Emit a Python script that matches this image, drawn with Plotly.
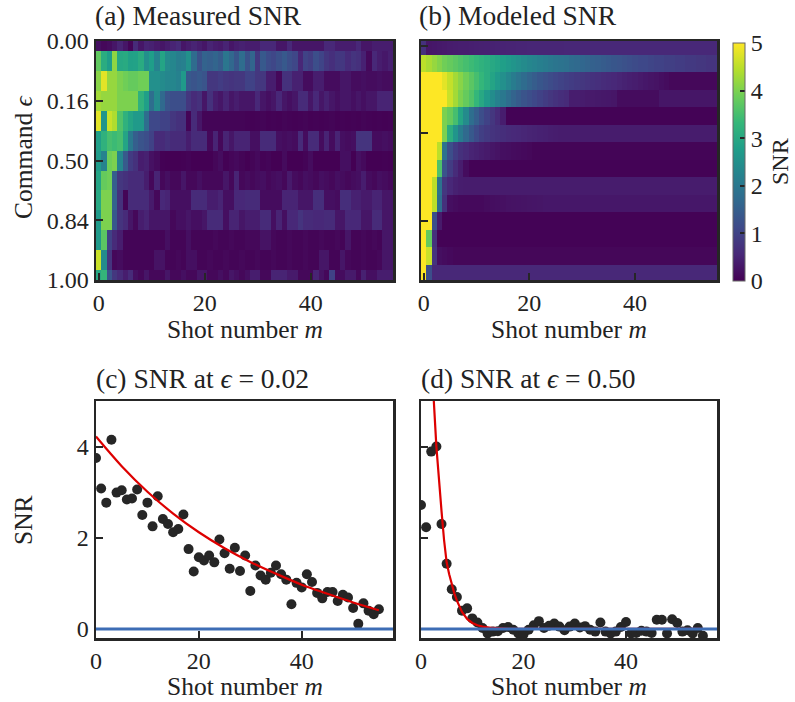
import plotly.graph_objects as go

W, H = 795, 702

# ---------------- data ----------------
shots = list(range(56))
rows_measured = list(range(13))
rows_model = list(range(14))
eps_tickvals = [0, 3, 6, 9, 12]
eps_ticktext = ["0.00", "0.16", "0.50", "0.84", "1.00"]
shot_ticks = [0, 20, 40]
snr_ticks = [0, 2, 4]
cbar_ticks = [0, 1, 2, 3, 4, 5]

# (c) SNR at eps = 0.02 (also row 1 of measured map)
snr_eps002 = [3.75, 3.08, 2.77, 4.15, 2.99, 3.04, 2.84, 2.86, 3.06, 2.50,
              2.77, 2.25, 2.91, 2.41, 2.30, 2.12, 2.19, 2.51, 1.75, 1.26,
              1.57, 1.50, 1.61, 1.46, 1.96, 1.66, 1.32, 1.78, 1.27, 1.61,
              0.83, 1.39, 1.17, 1.08, 1.23, 1.39, 1.20, 1.08, 0.54, 1.01,
              0.91, 1.20, 1.03, 0.79, 0.67, 0.81, 0.81, 0.61, 0.75, 0.69,
              0.46, 0.11, 0.56, 0.40, 0.32, 0.43]
fit002_m = [0, 5, 10, 15, 20, 25, 30, 35, 40, 45, 50, 55]
fit002 = [4.22, 3.57, 3.01, 2.53, 2.12, 1.77, 1.47, 1.21, 0.97, 0.77, 0.58, 0.41]

# (d) SNR at eps = 0.50 (also row 6 of measured map)
snr_eps050 = [2.72, 2.23, 3.89, 4.00, 2.30, 1.43, 0.87, 0.70, 0.40, 0.45,
              0.23, 0.14, 0.02, -0.10, -0.06, -0.05, 0.02, 0.04, -0.02, -0.10,
              -0.12, -0.02, 0.08, 0.17, 0.02, 0.07, 0.12, 0.05, -0.03, 0.05,
              0.12, 0.03, 0.06, -0.02, -0.06, 0.14, -0.06, -0.10, -0.06, 0.04,
              0.15, -0.10, -0.09, -0.04, -0.06, -0.09, 0.20, 0.20, -0.10, 0.21,
              0.13, -0.06, -0.03, -0.10, 0.02, -0.15]
fit050_m = [2.4, 2.5, 3, 3.5, 4, 4.5, 5, 5.5, 6, 6.5, 7, 8, 9, 10, 11, 12, 14, 17, 20, 30, 40, 55]
fit050 = [5.3, 5.0, 4.0, 3.2, 2.59, 1.95, 1.46, 1.2, 0.97, 0.78, 0.62, 0.37, 0.22, 0.13, 0.08,
          0.05, 0.02, 0.0, 0.0, 0.0, 0.0, 0.0]

# (a) measured SNR map rows
meas_r0 = [0.2, 0.1, 0.15, 0.3, 0.5, 0.3, 0.05, 0.6, 0.3, 0.5,
           0.45, 0.35, 0.3, 0.4, 0.5, 0.6, 0.3, 0.4, 0.5, 0.4,
           0.3, 0.5, 0.4, 0.35, 0.5, 0.3, 0.4, 0.45,
           0.4, 0.4, 0.4, 0.55, 0.55, 0.55, 0.3, 0.3, 0.55, 0.3,
           0.3, 0.3, 0.3, 0.3, 0.3, 0.55, 0.55, 0.4, 0.4, 0.4,
           0.4, 0.55, 0.3, 0.3, 0.4, 0.4, 0.4, 0.4]
meas_r2 = [4.1, 4.8, 4.2, 4.2, 4.0, 3.9, 3.8, 3.8, 3.9, 3.9,
           2.5, 2.5, 2.4, 2.3, 2.3, 2.2, 2.7, 1.4, 1.3, 1.4,
           1.3, 0.8, 0.8, 0.9, 0.8, 0.75, 0.8, 0.8,
           1.0, 1.0, 0.8, 0.8, 0.4, 0.4, 0.1, 0.7, 0.7, 0.45,
           0.45, 0.15, 0.15, 0.4, 0.4, 0.15, 0.15, 0.15, 0.3, 0.3,
           0.15, 0.15, 0.2, 0.15, 0.15, 0.2, 0.15, 0.15]
meas_r3 = [4.3, 4.2, 4.2, 4.2, 4.0, 4.0, 4.0, 4.0, 3.2, 2.8,
           1.8, 2.4, 1.7, 1.3, 1.2, 1.2, 1.2, 0.8, 0.6, 0.7,
           0.3, 0.7, 0.4, 0.3, 0.5, 0.3, 0.4, 0.3,
           0.3, 0.3, 0.55, 0.3, 0.2, 0.3, 0.55, 0.3, 0.2, 0.3,
           0.6, 0.6, 0.3, 0.55, 0.3, 0.45, 0.3, 0.2, 0.3, 0.3,
           0.2, 0.3, 0.2, 0.3, 0.3, 0.5, 0.5, 0.5]
meas_r4 = [4.8, 2.6, 4.6, 4.4, 3.6, 3.2, 2.9, 2.7, 2.7, 1.8,
           1.1, 1.1, 1.0, 1.0, 0.8, 0.7, 0.7, 0.05, 0.6, 0.3,
           0.05, 0.05, 0.05, 0.05, 0.05, 0.05, 0.05, 0.05,
           0.03, 0.02, 0.03, 0.05, 0.02, 0.03, 0.02, 0.05, 0.03, 0.02,
           0.03, 0.05, 0.02, 0.03, 0.02, 0.03, 0.05, 0.02, 0.03, 0.02,
           0.03, 0.02, 0.05, 0.03, 0.02, 0.03, 0.02, 0.03]
meas_r5 = [2.8, 3.2, 3.5, 3.4, 3.5, 2.9, 2.0, 1.5, 1.3, 1.2,
           1.0, 0.6, 0.6, 0.7, 0.6, 0.6, 0.6, 0.4, 0.6, 0.6,
           0.6, 0.1, 0.5, 0.1, 0.5, 0.3, 0.5, 0.5,
           0.5, 0.2, 0.2, 0.6, 0.6, 0.6, 0.2, 0.15, 0.2, 0.15,
           0.6, 0.15, 0.6, 0.6, 0.15, 0.5, 0.15, 0.5, 0.2, 0.15,
           0.2, 0.75, 0.75, 0.75, 0.15, 0.15, 0.2, 0.15]
meas_r7 = [2.9, 3.8, 3.9, 1.5, 0.8, 0.7, 0.6, 0.6, 0.6, 0.4,
           0.1, 0.5, 0.1, 0.2, 0.1, 0.1, 0.3, 0.1, 0.1, 0.2,
           0.1, 0.1, 0.1, 0.1, 0.3, 0.1, 0.5, 0.1,
           0.15, 0.1, 0.15, 0.2, 0.1, 0.15, 0.2, 0.1, 0.35, 0.15,
           0.1, 0.2, 0.15, 0.1, 0.2, 0.15, 0.1, 0.2, 0.15, 0.1,
           0.15, 0.2, 0.4, 0.15, 0.1, 0.2, 0.15, 0.1]
meas_r8 = [3.0, 4.0, 4.0, 1.6, 0.7, 0.05, 0.6, 0.6, 0.6, 0.6,
           0.35, 0.1, 0.55, 0.5, 0.2, 0.2, 0.2, 0.2, 0.6, 0.6,
           0.6, 0.4, 0.4, 0.5, 0.2, 0.2, 0.55, 0.55,
           0.6, 0.6, 0.6, 0.15, 0.15, 0.15, 0.15, 0.5, 0.5, 0.5,
           0.3, 0.3, 0.3, 0.65, 0.65, 0.2, 0.2, 0.15, 0.65, 0.65,
           0.45, 0.45, 0.35, 0.35, 0.5, 0.5, 0.3, 0.3]
meas_r9 = [2.7, 4.0, 4.0, 1.4, 0.75, 0.6, 0.3, 0.1, 0.4, 0.5,
           0.3, 0.3, 0.3, 0.3, 0.1, 0.2, 0.2, 0.3, 0.2, 0.2,
           0.3, 0.6, 0.6, 0.6, 0.2, 0.5, 0.5, 0.3,
           0.4, 0.4, 0.4, 0.6, 0.6, 0.2, 0.5, 0.2, 0.55, 0.55,
           0.75, 0.6, 0.6, 0.55, 0.55, 0.6, 0.6, 0.3, 0.3, 0.55,
           0.55, 0.55, 0.3, 0.3, 0.6, 0.6, 0.3, 0.3]
meas_r10 = [2.7, 3.7, 1.0, 0.6, 0.4, 0.05, 0.05, 0.05, 0.05, 0.05,
            0.05, 0.05, 0.05, 0.2, 0.05, 0.05, 0.05, 0.2, 0.05, 0.05,
            0.05, 0.05, 0.1, 0.05, 0.05, 0.1, 0.05, 0.05,
            0.1, 0.1, 0.1, 0.25, 0.25, 0.1, 0.05, 0.05, 0.1, 0.05,
            0.05, 0.1, 0.05, 0.05, 0.1, 0.05, 0.05, 0.1, 0.05, 0.3,
            0.05, 0.05, 0.1, 0.05, 0.1, 0.05, 0.3, 0.3]
meas_r11 = [4.6, 2.4, 0.75, 0.1, 0.15, 0.05, 0.05, 0.05, 0.05, 0.05,
            0.05, 0.25, 0.25, 0.05, 0.05, 0.1, 0.05, 0.2, 0.2, 0.05,
            0.05, 0.1, 0.05, 0.05, 0.1, 0.05, 0.05, 0.1,
            0.05, 0.05, 0.1, 0.05, 0.05, 0.1, 0.05, 0.05, 0.1, 0.05,
            0.05, 0.1, 0.05, 0.05, 0.3, 0.3, 0.05, 0.05, 0.3, 0.1,
            0.05, 0.05, 0.1, 0.05, 0.05, 0.1, 0.3, 0.3]
meas_r12 = [3.0, 3.3, 1.3, 0.8, 0.6, 0.4, 0.6, 0.2, 0.1, 0.3,
            0.1, 0.1, 0.1, 0.3, 0.1, 0.1, 0.2, 0.1, 0.1, 0.3,
            0.3, 0.1, 0.1, 0.2, 0.1, 0.3, 0.2, 0.1,
            0.2, 0.4, 0.4, 0.1, 0.1, 0.5, 0.5, 0.5, 0.35, 0.35,
            0.1, 0.1, 0.1, 0.5, 0.25, 0.1, 1.0, 0.15, 0.15, 0.35,
            0.35, 0.1, 0.45, 0.2, 0.2, 0.4, 0.4, 0.4]

measured = [meas_r0, snr_eps002, meas_r2, meas_r3, meas_r4, meas_r5, snr_eps050,
            meas_r7, meas_r8, meas_r9, meas_r10, meas_r11, meas_r12]

# (b) modeled SNR map rows
mod_r0 = [0.7, 0.3, 0.32, 0.34, 0.36, 0.38, 0.4, 0.41, 0.42, 0.43,
          0.44, 0.45, 0.46, 0.47, 0.48, 0.49, 0.5, 0.5, 0.51, 0.51,
          0.52, 0.52, 0.52, 0.53, 0.53, 0.53, 0.53, 0.54, 0.54, 0.54,
          0.54, 0.54, 0.55, 0.55, 0.55, 0.55, 0.55, 0.55, 0.55, 0.55,
          0.55, 0.55, 0.55, 0.55, 0.55, 0.55, 0.55, 0.55, 0.55, 0.55,
          0.55, 0.55, 0.55, 0.55, 0.55, 0.55]
mod_r1 = [4.5, 4.35, 4.2, 4.05, 3.9, 3.8, 3.7, 3.6, 3.5, 3.4,
          3.3, 3.2, 3.1, 3.0, 2.9, 2.8, 2.7, 2.6, 2.5, 2.4,
          2.3, 2.25, 2.15, 2.1, 2.0, 1.95, 1.9, 1.85, 1.75, 1.7,
          1.65, 1.6, 1.55, 1.5, 1.45, 1.4, 1.35, 1.3, 1.25, 1.2,
          1.15, 1.1, 1.1, 1.05, 1.0, 1.0, 0.95, 0.95, 0.9, 0.9,
          0.85, 0.85, 0.8, 0.8, 0.75, 0.75]
mod_r2 = [5.5, 5.5, 5.5, 5.5, 4.8, 4.55, 4.3, 4.1, 3.9, 3.7,
          3.5, 3.3, 3.1, 2.9, 2.7, 2.5, 2.3, 2.1, 1.93, 1.76,
          1.6, 1.47, 1.35, 1.25, 1.16, 1.08, 1.01, 0.95, 0.9, 0.85,
          0.8, 0.75, 0.71, 0.67, 0.63, 0.59, 0.55, 0.51, 0.47, 0.43,
          0.4, 0.36, 0.32, 0.28, 0.25, 0.2, 0.15, 0.1, 0.1, 0.1,
          0.1, 0.1, 0.1, 0.1, 0.1, 0.1]
mod_r3 = [5.5, 5.5, 5.5, 5.5, 5.5, 4.6, 4.3, 4.0, 3.8, 3.6,
          3.3, 3.0, 2.7, 2.45, 2.2, 2.0, 1.8, 1.6, 1.45, 1.3,
          1.2, 1.1, 1.0, 0.9, 0.8, 0.72, 0.65, 0.6, 0.4, 0.4,
          0.38, 0.36, 0.35, 0.34, 0.33, 0.32, 0.3, 0.15, 0.15, 0.15,
          0.15, 0.15, 0.15, 0.15, 0.15, 0.3, 0.3, 0.3, 0.3, 0.3,
          0.3, 0.3, 0.3, 0.3, 0.3, 0.3]
mod_r4 = [5.5, 5.5, 5.5, 5.5, 4.0, 3.8, 3.5, 2.9, 2.4, 1.8,
          1.5, 1.2, 1.0, 0.8, 0.6, 0.4, 0.03, 0.03, 0.03, 0.03,
          0.03, 0.03, 0.03, 0.03, 0.03, 0.03, 0.03, 0.03, 0.03, 0.03,
          0.03, 0.03, 0.03, 0.03, 0.03, 0.03, 0.03, 0.03, 0.03, 0.03,
          0.03, 0.03, 0.03, 0.03, 0.03, 0.03, 0.03, 0.03, 0.03, 0.03,
          0.03, 0.03, 0.03, 0.03, 0.03, 0.03]
mod_r5 = [5.5, 5.5, 5.5, 5.5, 4.0, 3.1, 2.6, 2.1, 1.7, 1.4,
          1.15, 0.95, 0.85, 0.75, 0.7, 0.65, 0.6, 0.58, 0.55, 0.52,
          0.5, 0.48, 0.46, 0.44, 0.42, 0.4, 0.38, 0.38, 0.38, 0.38,
          0.38, 0.38, 0.38, 0.38, 0.38, 0.38, 0.38, 0.38, 0.38, 0.38,
          0.38, 0.38, 0.38, 0.38, 0.38, 0.38, 0.38, 0.38, 0.38, 0.38,
          0.38, 0.38, 0.38, 0.38, 0.38, 0.38]
mod_r6 = [5.5, 5.5, 5.5, 4.5, 1.9, 1.2, 0.9, 0.7, 0.6, 0.5,
          0.45, 0.4, 0.35, 0.3, 0.25, 0.2, 0.18, 0.16, 0.14, 0.12,
          0.1, 0.05, 0.05, 0.05, 0.05, 0.05, 0.05, 0.05, 0.05, 0.05,
          0.05, 0.05, 0.05, 0.05, 0.05, 0.05, 0.05, 0.05, 0.05, 0.05,
          0.05, 0.05, 0.05, 0.05, 0.05, 0.05, 0.05, 0.05, 0.05, 0.05,
          0.05, 0.05, 0.05, 0.05, 0.05, 0.05]
mod_r7 = [5.5, 5.5, 5.5, 3.6, 1.3, 0.9, 0.6, 0.4, 0.15, 0.03,
          0.03, 0.03, 0.03, 0.03, 0.03, 0.03, 0.03, 0.03, 0.03, 0.03,
          0.03, 0.03, 0.03, 0.03, 0.03, 0.03, 0.03, 0.03, 0.03, 0.03,
          0.03, 0.03, 0.03, 0.03, 0.03, 0.03, 0.03, 0.03, 0.03, 0.03,
          0.03, 0.03, 0.03, 0.03, 0.03, 0.03, 0.03, 0.03, 0.03, 0.03,
          0.03, 0.03, 0.03, 0.03, 0.03, 0.03]
mod_r8 = [5.5, 5.5, 4.5, 1.9, 0.8, 0.55, 0.45, 0.4, 0.38, 0.38,
          0.38, 0.38, 0.38, 0.38, 0.38, 0.38, 0.38, 0.38, 0.38, 0.38,
          0.38, 0.38, 0.38, 0.38, 0.38, 0.38, 0.38, 0.38, 0.38, 0.38,
          0.38, 0.38, 0.38, 0.38, 0.38, 0.38, 0.38, 0.38, 0.38, 0.38,
          0.38, 0.38, 0.38, 0.38, 0.38, 0.38, 0.38, 0.38, 0.38, 0.38,
          0.38, 0.38, 0.38, 0.38, 0.38, 0.38]
mod_r9 = [5.5, 5.5, 4.5, 1.8, 0.7, 0.2, 0.15, 0.12, 0.12, 0.12,
          0.12, 0.12, 0.15, 0.18, 0.2, 0.22, 0.24, 0.25, 0.26, 0.27,
          0.28, 0.29, 0.3, 0.32, 0.32, 0.32, 0.32, 0.32, 0.32, 0.32,
          0.32, 0.32, 0.32, 0.32, 0.32, 0.32, 0.32, 0.32, 0.32, 0.32,
          0.32, 0.32, 0.32, 0.32, 0.32, 0.32, 0.32, 0.32, 0.32, 0.32,
          0.32, 0.32, 0.32, 0.32, 0.32, 0.32]
mod_r10 = [5.5, 5.5, 1.2, 0.35, 0.03, 0.03, 0.03, 0.03, 0.03, 0.03,
           0.03, 0.03, 0.03, 0.03, 0.03, 0.03, 0.03, 0.03, 0.03, 0.03,
           0.03, 0.03, 0.03, 0.03, 0.03, 0.03, 0.03, 0.03, 0.03, 0.03,
           0.03, 0.03, 0.03, 0.03, 0.03, 0.03, 0.03, 0.03, 0.03, 0.03,
           0.03, 0.03, 0.03, 0.03, 0.03, 0.03, 0.03, 0.03, 0.03, 0.03,
           0.03, 0.03, 0.03, 0.03, 0.03, 0.03]
mod_r11 = [5.5, 3.8, 0.7, 0.03, 0.03, 0.03, 0.03, 0.03, 0.03, 0.03,
           0.03, 0.03, 0.03, 0.03, 0.03, 0.03, 0.03, 0.03, 0.03, 0.03,
           0.03, 0.03, 0.03, 0.03, 0.03, 0.03, 0.03, 0.03, 0.03, 0.03,
           0.03, 0.03, 0.03, 0.03, 0.03, 0.03, 0.03, 0.03, 0.03, 0.03,
           0.03, 0.03, 0.03, 0.03, 0.03, 0.03, 0.03, 0.03, 0.03, 0.03,
           0.03, 0.03, 0.03, 0.03, 0.03, 0.03]
mod_r12 = [5.5, 4.6, 0.75, 0.2, 0.15, 0.12, 0.08, 0.08, 0.08, 0.08,
           0.08, 0.08, 0.08, 0.08, 0.08, 0.08, 0.08, 0.08, 0.08, 0.08,
           0.08, 0.08, 0.08, 0.08, 0.08, 0.08, 0.08, 0.08, 0.08, 0.08,
           0.08, 0.08, 0.08, 0.08, 0.08, 0.08, 0.08, 0.08, 0.08, 0.08,
           0.08, 0.08, 0.08, 0.08, 0.08, 0.08, 0.08, 0.08, 0.08, 0.08,
           0.08, 0.08, 0.08, 0.08, 0.08, 0.08]
mod_r13 = [5.5, 1.2, 0.55, 0.55, 0.55, 0.55, 0.55, 0.55, 0.55, 0.55,
           0.55, 0.55, 0.55, 0.55, 0.55, 0.55, 0.55, 0.55, 0.55, 0.55,
           0.55, 0.55, 0.55, 0.55, 0.55, 0.55, 0.55, 0.55, 0.55, 0.55,
           0.55, 0.55, 0.55, 0.55, 0.55, 0.55, 0.55, 0.55, 0.55, 0.55,
           0.55, 0.55, 0.55, 0.55, 0.55, 0.55, 0.55, 0.55, 0.55, 0.55,
           0.55, 0.55, 0.55, 0.55, 0.55, 0.55]

modeled = [mod_r0, mod_r1, mod_r2, mod_r3, mod_r4, mod_r5, mod_r6, mod_r7,
           mod_r8, mod_r9, mod_r10, mod_r11, mod_r12, mod_r13]

# ---------------- style ----------------
FONT = "Liberation Serif"
TXT = "#222222"
AX = "#262626"
DOT = "#262626"
RED = "#dd0000"
BLUE = "#3d6db5"
TICK_FS = 24
LABEL_FS = 25.5
TITLE_FS = 27.5


def fx(px):
    return px / W


def fy(py):
    return 1 - py / H


A_X = [fx(96), fx(393)]
B_X = [fx(421), fx(717)]
TOP_Y = [fy(280), fy(41)]
BOT_Y = [fy(638), fy(401)]

axis_style = dict(showline=True, linecolor=AX, linewidth=2.5, mirror=True,
                  ticks="inside", ticklen=7, tickwidth=2, tickcolor=AX,
                  showgrid=False, zeroline=False, automargin=False,
                  tickfont=dict(family=FONT, size=TICK_FS, color=TXT))

fig = go.Figure()

fig.add_trace(go.Heatmap(z=measured, x=shots, y=rows_measured, colorscale="Viridis",
                         zmin=0, zmax=5, showscale=False, xaxis="x", yaxis="y",
                         hoverinfo="skip"))
fig.add_trace(go.Heatmap(z=modeled, x=shots, y=rows_model, colorscale="Viridis",
                         zmin=0, zmax=5, xaxis="x2", yaxis="y2", hoverinfo="skip",
                         colorbar=dict(x=fx(733), xanchor="left", y=fy(162), yanchor="middle",
                                       len=238 / H, lenmode="fraction", thickness=12,
                                       thicknessmode="pixels", outlinewidth=1, outlinecolor="#666",
                                       xpad=0, ypad=0, tickvals=cbar_ticks, ticks="inside",
                                       ticklen=5, tickwidth=2, tickcolor=AX,
                                       tickfont=dict(family=FONT, size=TICK_FS, color=TXT))))

fig.add_trace(go.Scatter(x=shots, y=snr_eps002, mode="markers", xaxis="x3", yaxis="y3",
                         marker=dict(size=10, color=DOT), showlegend=False))
fig.add_trace(go.Scatter(x=fit002_m, y=fit002, mode="lines", xaxis="x3", yaxis="y3",
                         line=dict(color=RED, width=2.2, shape="spline"), showlegend=False))
fig.add_trace(go.Scatter(x=shots, y=snr_eps050, mode="markers", xaxis="x4", yaxis="y4",
                         marker=dict(size=10, color=DOT), showlegend=False))
fig.add_trace(go.Scatter(x=fit050_m, y=fit050, mode="lines", xaxis="x4", yaxis="y4",
                         line=dict(color=RED, width=2.2), showlegend=False))

for xr in ("x3", "x4"):
    yr = "y3" if xr == "x3" else "y4"
    fig.add_shape(type="line", xref=xr + " domain", x0=0, x1=1, yref=yr, y0=0, y1=0,
                  line=dict(color=BLUE, width=3), layer="above")

fig.update_layout(
    template="none",
    width=W, height=H, margin=dict(l=0, r=0, t=0, b=0, autoexpand=False),
    paper_bgcolor="white", plot_bgcolor="white", showlegend=False,
    xaxis=dict(domain=A_X, anchor="y", range=[-0.5, 55.5], tickvals=shot_ticks, **axis_style),
    yaxis=dict(domain=TOP_Y, anchor="x", range=[12, 0], tickvals=eps_tickvals,
               ticktext=eps_ticktext, **axis_style),
    xaxis2=dict(domain=B_X, anchor="y2", range=[-0.5, 55.5], tickvals=shot_ticks, **axis_style),
    yaxis2=dict(domain=TOP_Y, anchor="x2", range=[13.39, -0.29], tickvals=[0, 5, 10],
                showticklabels=False, **axis_style),
    xaxis3=dict(domain=A_X, anchor="y3", range=[0, 57.75], tickvals=shot_ticks, **axis_style),
    yaxis3=dict(domain=BOT_Y, anchor="x3", range=[-0.2, 5], tickvals=snr_ticks, **axis_style),
    xaxis4=dict(domain=B_X, anchor="y4", range=[0, 57.75], tickvals=shot_ticks, **axis_style),
    yaxis4=dict(domain=BOT_Y, anchor="x4", range=[-0.2, 5], tickvals=snr_ticks,
                showticklabels=False, **axis_style),
)

ann = []


def text(t, x, y, size, xanchor="center", angle=0):
    ann.append(dict(text=t, x=x, y=y, xref="paper", yref="paper", xanchor=xanchor,
                    yanchor="middle", showarrow=False, textangle=angle, borderpad=0,
                    font=dict(family=FONT, size=size, color=TXT)))


text("(a) Measured SNR", fx(94), fy(16), TITLE_FS, "left")
text("(b) Modeled SNR", fx(418), fy(16), TITLE_FS, "left")
text("(c) SNR at <i>ϵ</i> = 0.02", fx(95), fy(378), TITLE_FS, "left")
text("(d) SNR at <i>ϵ</i> = 0.50", fx(420), fy(378), TITLE_FS, "left")
text("Shot number <i>m</i>", fx(244.5), fy(329), LABEL_FS)
text("Shot number <i>m</i>", fx(569), fy(329), LABEL_FS)
text("Shot number <i>m</i>", fx(244.5), fy(686), LABEL_FS)
text("Shot number <i>m</i>", fx(569), fy(686), LABEL_FS)
text("Command <i>ϵ</i>", fx(23), fy(157), LABEL_FS, angle=-90)
text("SNR", fx(23), fy(520), LABEL_FS, angle=-90)
text("SNR", fx(780), fy(162), 24, angle=-90)
fig.update_layout(annotations=ann)

fig.write_html("out.html",
               config={"displayModeBar": False, "staticPlot": True},
               post_script="document.body.style.margin='0px';document.body.style.padding='0px';")
